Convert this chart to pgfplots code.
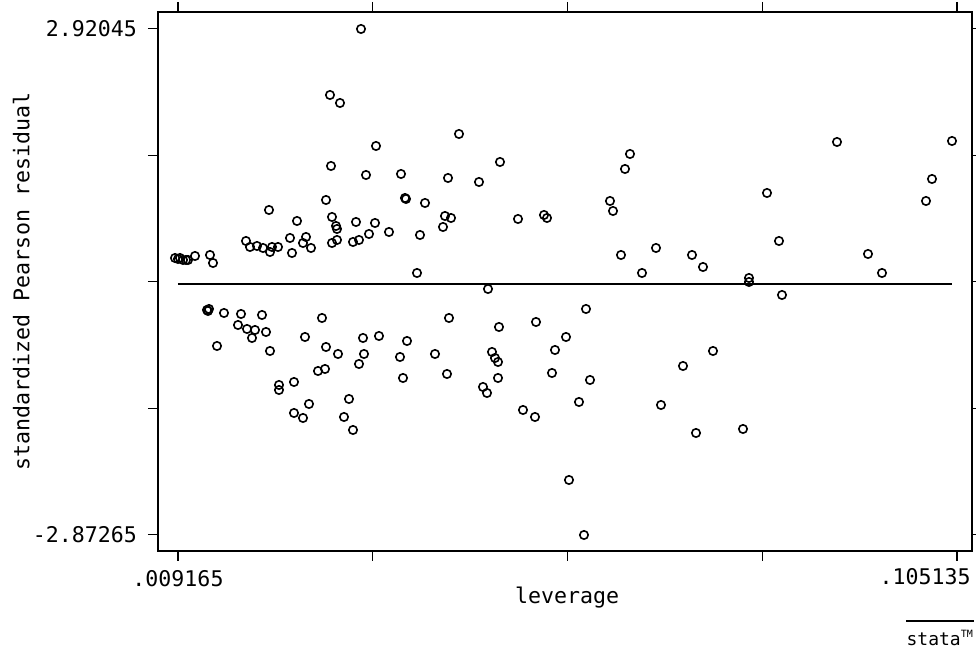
\documentclass[border=0pt]{standalone}
\usepackage{fontspec}
\setmainfont{DejaVu Sans Mono}
\usepackage{pgfplots}
\pgfplotsset{compat=1.18}

\begin{document}
\begin{tikzpicture}
\begin{axis}[
  scale only axis,
  width=407pt, height=269.5pt,
  xmin=0.006701, xmax=0.106986,
  ymin=-3.057, ymax=3.114,
  axis line style={line width=1pt},
  tick align=outside,
  major tick length=5pt,
  tick style={black, line width=0.6pt},
  xtick={0.009165,0.033158,0.05715,0.081143,0.105135},
  xticklabels={.009165,,,,},
  ytick={-2.87265,-1.424,0.0239,1.472,2.92045},
  yticklabels={-2.87265,,,,2.92045},
  xtick pos=both, ytick pos=both,
  xticklabel pos=left, yticklabel pos=left,
  ticklabel style={font=\fontsize{10.8}{12}\selectfont},
  yticklabel style={xshift=-2pt},
  xticklabel style={yshift=-1pt},
  xlabel={leverage},
  ylabel={standardized Pearson residual},
  label style={font=\fontsize{10.8}{12}\selectfont},
  xlabel style={at={(axis description cs:0.5025,-0.087)}, anchor=center},
  ylabel style={at={(axis description cs:-0.168,0.5)}, anchor=center},
  clip=false,
]
\coordinate (bl) at (rel axis cs:0,0);

\addplot[black, line width=0.75pt] coordinates {(0.009165,0) (0.104522,0)};

\addplot[only marks, mark=o, mark size=2.1pt,
  mark options={black, line width=0.8pt}] coordinates {
(0.00880,0.2977) (0.009165,0.2862) (0.009411,0.2977) (0.009781,0.2748)
(0.010151,0.2748) (0.010397,0.2748) (0.011259,0.3206) (0.013107,0.3320)
(0.013477,0.2404) (0.017543,0.4923) (0.018035,0.4236) (0.018898,0.4351)
(0.019637,0.4122) (0.020499,0.3664) (0.020746,0.4236) (0.021485,0.4236)
(0.020376,0.8472) (0.023826,0.7213) (0.022963,0.5267) (0.023210,0.3549)
(0.024935,0.5381) (0.024565,0.4694) (0.025551,0.4122) (0.027891,2.1639)
(0.029123,2.0723) (0.031711,2.9195) (0.043784,1.7174) (0.033559,1.5800)
(0.028015,1.3510) (0.032327,1.2479) (0.036639,1.2594) (0.042429,1.2136)
(0.046248,1.1678) (0.048835,1.3968) (0.027399,0.9617) (0.037131,0.9846)
(0.037255,0.9732) (0.039595,0.9274) (0.028138,0.7671) (0.042059,0.7785)
(0.042799,0.7556) (0.051053,0.7442) (0.054256,0.7900) (0.054626,0.7556)
(0.028631,0.6640) (0.028754,0.6297) (0.031095,0.7098) (0.033435,0.6984)
(0.028138,0.4694) (0.028754,0.5038) (0.030725,0.4809) (0.031464,0.5038)
(0.032696,0.5725) (0.035160,0.5953) (0.038979,0.5610) (0.041813,0.6526)
(0.038610,0.1259) (0.062387,0.9503) (0.062757,0.8358) (0.063743,0.3320)
(0.064235,1.3166) (0.064851,1.4884) (0.066330,0.1259) (0.068055,0.4122)
(0.072490,0.3320) (0.073845,0.1946) (0.079512,0.0687) (0.079512,0.0229)
(0.081730,1.0419) (0.083208,0.4923) (0.090354,1.6258) (0.094173,0.3435)
(0.095898,0.1259) (0.101319,0.9503) (0.102058,1.2021) (0.104522,1.6372)
(0.083578,-0.1259) (0.047357,-0.0572) (0.012738,-0.2977) (0.012861,-0.3091)
(0.012984,-0.2862) (0.014832,-0.3320) (0.016927,-0.3435) (0.019514,-0.3549)
(0.016557,-0.4694) (0.017666,-0.5152) (0.018651,-0.5267) (0.020007,-0.5496)
(0.018282,-0.6182) (0.013970,-0.7098) (0.020499,-0.7671) (0.024811,-0.6068)
(0.026906,-0.3893) (0.027399,-0.7213) (0.028877,-0.8014) (0.026413,-0.9961)
(0.027275,-0.9732) (0.021608,-1.1563) (0.021608,-1.2136) (0.023456,-1.1220)
(0.025304,-1.3739) (0.023456,-1.4769) (0.024565,-1.5342) (0.031957,-0.6182)
(0.033928,-0.5953) (0.032080,-0.8014) (0.031464,-0.9159) (0.030232,-1.3166)
(0.029616,-1.5227) (0.030725,-1.6716) (0.037378,-0.6526) (0.036515,-0.8358)
(0.036885,-1.0762) (0.040827,-0.8014) (0.042552,-0.3893) (0.042306,-1.0304)
(0.048712,-0.4923) (0.047850,-0.7785) (0.048219,-0.8472) (0.048589,-0.8930)
(0.048589,-1.0762) (0.046741,-1.1792) (0.047234,-1.2479) (0.053271,-0.4351)
(0.056967,-0.6068) (0.055611,-0.7556) (0.055242,-1.0190) (0.051669,-1.4426)
(0.053147,-1.5227) (0.059431,-0.2862) (0.059923,-1.0991) (0.058568,-1.3510)
(0.057336,-2.2440) (0.059184,-2.8737) (0.075077,-0.7671) (0.071381,-0.9388)
(0.068671,-1.3853) (0.072983,-1.7059) (0.078773,-1.6601)
};

% right end label sits flush with the frame, as in the original
\node[anchor=north east, inner sep=0pt, font=\fontsize{10.8}{12}\selectfont]
  at ([xshift=-0.5pt,yshift=-8.5pt]rel axis cs:1,0) {.105135};

% logo under the plot, bottom right
\node[anchor=center, inner sep=0pt, font=\fontsize{9}{9}\selectfont]
  at (axis description cs:0.961,-0.152)
  {\shortstack{\rule{34pt}{0.7pt}\\[1.5pt]stata\textsuperscript{\tiny TM}}};
\end{axis}
\pgfresetboundingbox
\path[use as bounding box] (bl) ++(-79pt,-50.5pt) rectangle ++(488pt,326pt);
\end{tikzpicture}
\end{document}
